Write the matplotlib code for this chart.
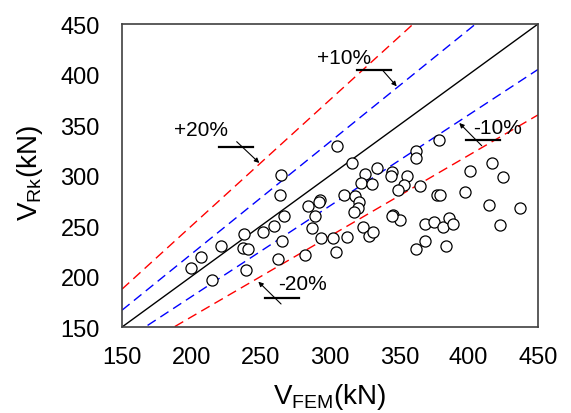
import numpy as np
import matplotlib
matplotlib.use('Agg')
from matplotlib import pyplot as plt

plt.rcParams['font.family'] = ['Liberation Sans', 'DejaVu Sans']

# FEM shear resistance vs characteristic resistance (kN)
v_fem = [305.3, 315.6, 264.7, 263.7, 267.1, 259.6, 251.4, 238.2, 221.4, 207.0,
         199.5, 237.0, 241.1, 239.7, 214.7, 265.4, 262.3, 281.7, 284.4, 293.0,
         292.1, 289.2, 287.0, 293.5, 302.4, 304.3, 312.0, 310.3, 318.2, 320.7,
         320.0, 317.3, 324.0, 327.9, 331.2, 325.0, 333.7, 322.4, 330.3, 344.5,
         344.0, 355.5, 353.4, 349.0, 345.7, 350.2, 344.9, 361.8, 362.0, 378.8,
         365.1, 377.4, 379.3, 397.3, 401.2, 417.0, 424.5, 414.4, 437.0, 422.4,
         368.5, 375.0, 381.7, 385.6, 388.9, 368.3, 362.0, 383.6]
v_rk = [328.9, 312.1, 300.8, 281.0, 260.2, 250.0, 244.1, 242.1, 230.5, 219.6,
        208.1, 228.2, 227.2, 206.4, 196.5, 235.5, 217.3, 221.3, 269.5, 275.4,
        273.5, 260.2, 248.0, 238.1, 237.8, 224.0, 239.4, 281.0, 279.4, 273.5,
        268.1, 263.6, 249.3, 239.8, 243.8, 301.5, 307.4, 292.6, 291.9, 303.2,
        299.2, 299.8, 290.9, 285.6, 260.9, 256.2, 259.6, 324.6, 317.6, 335.1,
        289.3, 280.4, 280.7, 283.4, 304.5, 312.1, 298.5, 270.5, 268.1, 251.0,
        251.7, 254.3, 249.3, 257.9, 252.3, 234.9, 227.5, 230.5]

ticks = [150, 200, 250, 300, 350, 400, 450]

fig = plt.figure(figsize=(5.71, 4.14), dpi=100)
ax = fig.add_axes([0.2137, 0.2077, 0.7285, 0.7319])

x = np.array([150, 450])
ax.plot(x, x, color='k', lw=1.0)
ax.plot(x, x / 0.9, color='#0000ff', lw=1.0, dashes=(7, 4))
ax.plot(x, x * 0.9, color='#0000ff', lw=1.0, dashes=(7, 4))
ax.plot(x, x / 0.8, color='#ff0000', lw=1.0, dashes=(7, 4))
ax.plot(x, x * 0.8, color='#ff0000', lw=1.0, dashes=(7, 4))

ax.plot(v_fem, v_rk, 'o', ms=8, mfc='white', mec='k', mew=0.9, zorder=3)

# labels with underline and arrow pointing to the line
notes = [('+10%', (310.1, 417.3), (319.5, 344.0, 404.8), (338.2, 403.8), (348.1, 388.3)),
         ('+20%', (206.6, 345.5), (220.0, 244.5, 328.5), (232.7, 333.5), (249.0, 312.4)),
         ('-10%', (420.8, 347.5), (398.1, 422.6, 335.4), (409.4, 329.5), (393.2, 352.0)),
         ('-20%', (279.8, 192.6), (253.1, 277.6, 178.4), (264.7, 172.8), (248.3, 194.9))]
for txt, pos, ul, tail, head in notes:
    ax.text(pos[0], pos[1], txt, fontsize=15, ha='center', va='center')
    ax.plot([ul[0], ul[1]], [ul[2], ul[2]], color='k', lw=1.6)
    ax.annotate('', xy=head, xytext=tail,
                arrowprops=dict(arrowstyle='-|>', color='k', lw=0.8,
                                mutation_scale=7, shrinkA=0, shrinkB=0))

ax.set_xlim(150, 450)
ax.set_ylim(150, 450)
ax.set_xticks(ticks)
ax.set_yticks(ticks)
ax.tick_params(length=0, labelsize=17, pad=14)
ax.tick_params(axis='y', pad=16)
for s in ax.spines.values():
    s.set_color('#404040')
    s.set_linewidth(1.2)

ax.set_xlabel('V$_{\\mathregular{FEM}}$(kN)', fontsize=20, va='center')
ax.xaxis.set_label_coords(0.5, -0.228)
ax.set_ylabel('V$_{\\mathregular{Rk}}$(kN)', fontsize=20, va='center')
ax.yaxis.set_label_coords(-0.221, 0.512)

fig.savefig('out.png', dpi=100)
